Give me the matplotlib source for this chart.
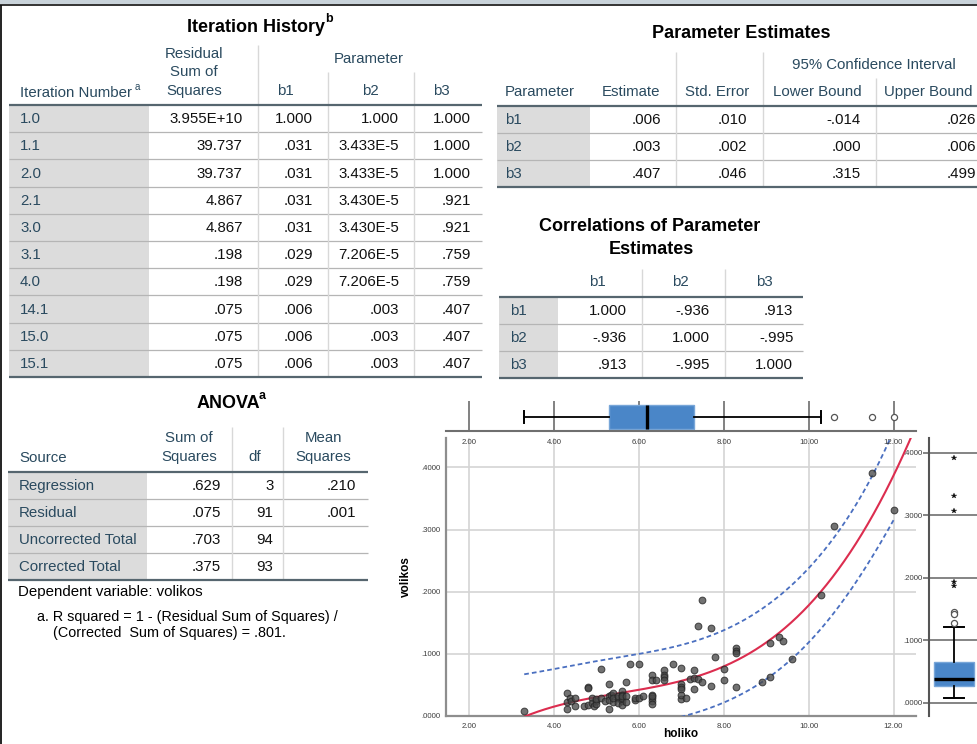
import numpy as np
import matplotlib
matplotlib.use("Agg")
import matplotlib.pyplot as plt
from matplotlib.patches import Rectangle

plt.rcParams['font.family'] = ['Liberation Sans', 'DejaVu Sans']

# ---------------- Iteration History ----------------
iter_labels = ["1.0", "1.1", "2.0", "2.1", "3.0", "3.1", "4.0", "14.1", "15.0", "15.1"]
iter_rss = ["3.955E+10", "39.737", "39.737", "4.867", "4.867", ".198", ".198", ".075", ".075", ".075"]
iter_b1 = ["1.000", ".031", ".031", ".031", ".031", ".029", ".029", ".006", ".006", ".006"]
iter_b2 = ["1.000", "3.433E-5", "3.433E-5", "3.430E-5", "3.430E-5", "7.206E-5", "7.206E-5",
           ".003", ".003", ".003"]
iter_b3 = ["1.000", "1.000", "1.000", ".921", ".921", ".759", ".759", ".407", ".407", ".407"]

# ---------------- Parameter Estimates ----------------
param_names = ["b1", "b2", "b3"]
pe_estimate = [".006", ".003", ".407"]
pe_stderr = [".010", ".002", ".046"]
pe_lower = ["-.014", ".000", ".315"]
pe_upper = [".026", ".006", ".499"]

# ---------------- Correlations of Parameter Estimates ----------------
corr_b1 = ["1.000", "-.936", ".913"]
corr_b2 = ["-.936", "1.000", "-.995"]
corr_b3 = [".913", "-.995", "1.000"]

# ---------------- ANOVA ----------------
anova_source = ["Regression", "Residual", "Uncorrected Total", "Corrected Total"]
anova_ss = [".629", ".075", ".703", ".375"]
anova_df = ["3", "91", "94", "93"]
anova_ms = [".210", ".001", "", ""]

# ---------------- holiko / volikos observations ----------------
holiko = [3.3, 4.3, 4.3, 4.3, 4.38, 4.4, 4.5, 4.5, 4.7, 4.8, 4.8, 4.8, 4.9, 4.9, 4.95,
          5.0, 5.0, 5.0, 5.1, 5.1, 5.2, 5.3, 5.3, 5.3, 5.3, 5.35, 5.4, 5.4, 5.4,
          5.5, 5.5, 5.5, 5.6, 5.6, 5.6, 5.6, 5.6, 5.6, 5.7, 5.7, 5.7, 5.8, 5.9, 5.9,
          6.0, 6.0, 6.1, 6.3, 6.3, 6.3, 6.3, 6.3, 6.3, 6.3, 6.4, 6.6, 6.6, 6.6, 6.6,
          6.8, 7.0, 7.0, 7.0, 7.0, 7.0, 7.0, 7.1, 7.2, 7.3, 7.3, 7.3, 7.4, 7.4, 7.5, 7.5,
          7.7, 7.7, 7.8, 8.0, 8.0, 8.3, 8.3, 8.3, 8.3, 8.9, 9.1, 9.1, 9.3, 9.4, 9.6,
          10.3, 10.6, 11.5, 12.0]
volikos = [.008, .036, .010, .022, .028, .024, .016, .028, .015, .047, .018, .045, .028, .020, .016,
           .024, .019, .027, .075, .028, .023, .051, .011, .031, .026, .033, .036, .022, .028,
           .028, .031, .020, .040, .034, .023, .017, .028, .031, .054, .031, .022, .084, .026, .029,
           .084, .028, .031, .066, .058, .033, .028, .023, .019, .031, .058, .073, .066, .062, .058,
           .083, .077, .051, .046, .043, .027, .034, .029, .059, .074, .060, .043, .059, .145, .187, .055,
           .142, .048, .094, .076, .057, .109, .105, .101, .046, .054, .062, .117, .127, .121, .092,
           .194, .306, .391, .331]

x_ticks = [2, 4, 6, 8, 10, 12]
y_ticks = [0.0, 0.1, 0.2, 0.3, 0.4]

# ---------------- styling ----------------
W, H = 977, 744
FS = 10.8
TITLE_FS = 13
HDR = '#2a4a5f'
DAT = '#111111'
CELL = '#dcdcdc'
RULE = '#b5b5b5'
HEAVY = '#56666f'
VRULE = '#d8d8d8'

fig = plt.figure(figsize=(W / 100, H / 100), dpi=100)
bg = fig.add_axes([0, 0, 1, 1])
bg.set_xlim(0, W)
bg.set_ylim(H, 0)
bg.axis('off')


def txt(x, y, s, ha='left', size=FS, color=HDR, weight='normal'):
    bg.text(x, y, s, ha=ha, va='center', fontsize=size, color=color, fontweight=weight)


def hline(y, x0, x1, color, lw):
    bg.plot([x0, x1], [y, y], color=color, lw=lw, solid_capstyle='butt')


def vline(x, y0, y1, color=VRULE, lw=1.0):
    bg.plot([x, x], [y0, y1], color=color, lw=lw, solid_capstyle='butt')


def body(x0, xlab, x1, top, rh, labels, lab_x, columns, rights, vlines):
    n = len(labels)
    for i in range(n):
        y0 = top + i * rh
        bg.add_patch(Rectangle((x0, y0), xlab - x0, rh, fc=CELL, ec='none', zorder=0))
        txt(lab_x, y0 + rh / 2 + 0.5, labels[i])
        if i > 0:
            hline(y0, x0, x1, RULE, 0.9)
        for col, xr in zip(columns, rights):
            txt(xr, y0 + rh / 2 + 0.5, col[i], ha='right', color=DAT)
    for xv in vlines:
        vline(xv, top, top + n * rh)
    hline(top, x0, x1, HEAVY, 1.6)
    hline(top + n * rh, x0, x1, HEAVY, 1.6)


# window frame
bg.add_patch(Rectangle((0, 0), W, 4, fc='#c9d3da', ec='none'))
hline(4.5, 0, W, '#111111', 1.2)
vline(1.2, 4.5, H, '#111111', 1.3)

# Iteration History
txt(256, 28, "Iteration History", ha='center', size=TITLE_FS, color='black', weight='bold')
txt(325, 19, "b", size=9, color='black', weight='bold')
txt(20, 93, "Iteration Number", color=HDR)
txt(135, 87, "a", size=7, color=HDR)
for yy, s in zip([54.3, 72.3, 90.7], ["Residual", "Sum of", "Squares"]):
    txt(194, yy, s, ha='center')
txt(369, 59.3, "Parameter", ha='center')
for xx, s in zip([285, 370, 441], ["b1", "b2", "b3"]):
    txt(xx, 90.7, s, ha='center')
vline(257.7, 45, 105)
vline(328.3, 72, 105)
vline(414.3, 72, 105)
body(9, 149, 482.3, 105, 27.2, iter_labels, 20,
     [iter_rss, iter_b1, iter_b2, iter_b3], [242.7, 313.3, 399, 471],
     [257.7, 328.3, 414.3])

# Parameter Estimates
txt(741, 33.3, "Parameter Estimates", ha='center', size=TITLE_FS, color='black', weight='bold')
txt(874, 65, "95% Confidence Interval", ha='center')
txt(505, 92, "Parameter")
txt(631, 92, "Estimate", ha='center')
txt(717, 92, "Std. Error", ha='center')
txt(817, 92, "Lower Bound", ha='center')
txt(928, 92, "Upper Bound", ha='center')
vline(676, 51.7, 106)
vline(762.7, 51.7, 106)
vline(876, 78.3, 106)
body(497, 590, W + 5, 106, 26.9, param_names, 505,
     [pe_estimate, pe_stderr, pe_lower, pe_upper], [660.7, 747.3, 861, 976],
     [676, 762.7, 876])

# Correlations of Parameter Estimates
txt(650, 226.7, "Correlations of Parameter", ha='center', size=TITLE_FS, color='black', weight='bold')
txt(651, 249.3, "Estimates", ha='center', size=TITLE_FS, color='black', weight='bold')
for xx, s in zip([597.3, 680.7, 764], param_names):
    txt(xx, 281.7, s, ha='center')
vline(642.3, 269.3, 296.7)
vline(725.3, 269.3, 296.7)
body(499.3, 558.3, 803.3, 296.7, 27.2, param_names, 510,
     [corr_b1, corr_b2, corr_b3], [626.7, 710, 793.3], [642.3, 725.3])

# ANOVA
txt(228.7, 404, "ANOVA", ha='center', size=TITLE_FS, color='black', weight='bold')
txt(259, 396, "a", size=9, color='black', weight='bold')
txt(19, 458.3, "Source")
txt(189, 438.3, "Sum of", ha='center')
txt(189, 456.7, "Squares", ha='center')
txt(255, 456.7, "df", ha='center')
txt(323.3, 438.3, "Mean", ha='center')
txt(323.3, 456.7, "Squares", ha='center')
vline(231.7, 426.7, 471.7)
vline(283.3, 426.7, 471.7)
body(8.3, 146.7, 367.7, 471.7, 27.1, anova_source, 19,
     [anova_ss, anova_df, anova_ms], [220.7, 273.3, 356], [231.7, 283.3])
txt(18.3, 592.3, "Dependent variable: volikos", color='black')
txt(36.7, 616.7, "a. R squared = 1 - (Residual Sum of Squares) /", color='black', size=10.4)
txt(53.3, 633.3, "(Corrected  Sum of Squares) = .801.", color='black', size=10.4)


# ---------------- chart panels ----------------
def px_axes(left, top, right, bottom):
    return fig.add_axes([left / W, 1 - bottom / H, (right - left) / W, (bottom - top) / H])


x = np.array(holiko)
y = np.array(volikos)
XMIN, XMAX = 1.45, 12.53
TICK_FS = 5.6
TICK_C = '#3c3c3c'

ax = px_axes(445.7, 437.7, 916, 715.7)
ax.set_xlim(XMIN, XMAX)
ax.set_ylim(0, 0.448)
for s in ['top', 'right']:
    ax.spines[s].set_visible(False)
for s in ['left', 'bottom']:
    ax.spines[s].set_color('#8e8e8e')
    ax.spines[s].set_linewidth(1.6)
ax.set_xticks(x_ticks)
ax.set_xticklabels([f"{v:.2f}" for v in x_ticks])
ax.set_yticks(y_ticks)
ax.set_yticklabels([f"{v:.4f}"[1:] for v in y_ticks])
ax.tick_params(length=0, labelsize=TICK_FS, labelcolor=TICK_C)
ax.tick_params(axis='x', pad=5)
ax.tick_params(axis='y', pad=3.5)
ax.grid(True, color='#d4d4d4', lw=1.2)
ax.set_axisbelow(True)
ax.set_facecolor('none')

# cubic fit with 95% individual prediction interval
X = np.vander(x, 4)
beta, *_ = np.linalg.lstsq(X, y, rcond=None)
resid = y - X @ beta
dof = len(x) - 4
s2 = resid @ resid / dof
XtX_inv = np.linalg.inv(X.T @ X)
t_crit = 1.987

xf = np.linspace(XMIN, XMAX, 400)
ax.plot(xf, np.vander(xf, 4) @ beta, color='#dc2d4f', lw=1.5, zorder=3)
xb = np.linspace(x.min(), x.max(), 400)
Xb = np.vander(xb, 4)
fit_b = Xb @ beta
half = t_crit * np.sqrt(s2 * (1 + np.einsum('ij,jk,ik->i', Xb, XtX_inv, Xb)))
for band in (fit_b + half, fit_b - half):
    ax.plot(xb, band, color='#4a6fc0', lw=1.3, dashes=(2.6, 1.7), zorder=3)

ax.scatter(x, y, s=24, facecolor='#4a4a4a', edgecolor='#222222', linewidth=0.7,
           alpha=0.78, zorder=4)

ax.set_xlabel("holiko", fontsize=8.5, fontweight='bold')
ax.xaxis.label.set_va('center')
ax.xaxis.set_label_coords(0.5, -0.066)
ax.set_ylabel("volikos", fontsize=8.5, fontweight='bold')
ax.yaxis.label.set_va('center')
ax.yaxis.set_label_coords(-0.0844, 0.5)

BOX_FC = '#4a86c8'
BOX_EC = '#78a6d8'


def outlier_marks(axis, data, horiz, pos):
    q1, q3 = np.percentile(data, [25, 75])
    iqr = q3 - q1
    mild = data[((data > q3 + 1.5 * iqr) & (data <= q3 + 3 * iqr)) |
                ((data < q1 - 1.5 * iqr) & (data >= q1 - 3 * iqr))]
    far = data[(data > q3 + 3 * iqr) | (data < q1 - 3 * iqr)]
    if horiz:
        axis.plot(mild, np.full(len(mild), pos), 'o', mfc='white', mec='#555555', ms=4.4, mew=0.9)
        axis.plot(far, np.full(len(far), pos), '*', color='#111111', ms=4.2, mew=0.2)
    else:
        axis.plot(np.full(len(mild), pos), mild, 'o', mfc='white', mec='#555555', ms=4.4, mew=0.9)
        axis.plot(np.full(len(far), pos), far, '*', color='#111111', ms=4.2, mew=0.2)


def draw_box(axis, data, horiz, pos, width):
    axis.boxplot(data, orientation='horizontal' if horiz else 'vertical', positions=[pos],
                 widths=width, whis=1.5, showfliers=False, patch_artist=True,
                 boxprops=dict(facecolor=BOX_FC, edgecolor=BOX_EC, linewidth=1.0),
                 medianprops=dict(color='black', linewidth=2.4),
                 whiskerprops=dict(color='black', linewidth=1.3),
                 capprops=dict(color='black', linewidth=1.4), manage_ticks=False)
    outlier_marks(axis, data, horiz, pos)


# boxplot of holiko above the scatter
tb = px_axes(445.7, 401, 916, 431)
tb.set_xlim(XMIN, XMAX)
tb.set_ylim(0, 1)
for s in ['top', 'right', 'left']:
    tb.spines[s].set_visible(False)
tb.spines['bottom'].set_color('#6f6f6f')
tb.spines['bottom'].set_linewidth(1.5)
tb.set_xticks(x_ticks)
tb.set_xticklabels([f"{v:.2f}" for v in x_ticks])
tb.set_yticks([])
tb.tick_params(length=0, labelsize=TICK_FS, labelcolor=TICK_C, pad=5.5)
tb.grid(True, axis='x', color='#777777', lw=1.3)
tb.set_axisbelow(True)
tb.set_facecolor('none')
draw_box(tb, x, True, 0.467, 0.777)

# boxplot of volikos at the right
rb = px_axes(928.7, 438.3, 990, 716)
rb.set_xlim(0, 1)
rb.set_ylim(-0.021, 0.423)
for s in ['top', 'right', 'bottom']:
    rb.spines[s].set_visible(False)
rb.spines['left'].set_color('#555555')
rb.spines['left'].set_linewidth(1.5)
rb.set_yticks(y_ticks)
rb.set_yticklabels([f"{v:.4f}"[1:] for v in y_ticks])
rb.set_xticks([])
rb.tick_params(axis='y', length=4, width=1.2, color='#707070', direction='out',
               labelsize=TICK_FS, labelcolor=TICK_C, pad=0.3)
rb.grid(True, axis='y', color='#707070', lw=1.2)
rb.set_axisbelow(True)
rb.set_facecolor('none')
draw_box(rb, y, False, 0.408, 0.652)

fig.savefig("out.png", dpi=100)
